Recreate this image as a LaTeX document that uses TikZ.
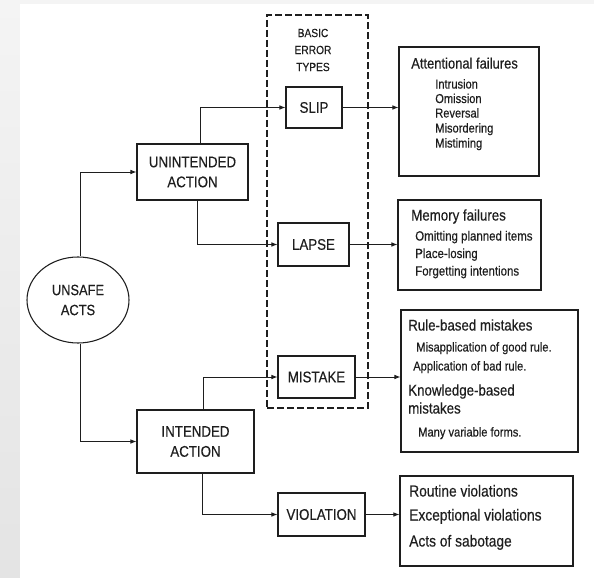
\documentclass[tikz,border=0pt]{standalone}
\usepackage{fontspec}
\setmainfont{Liberation Sans}[FakeStretch=0.86,FakeBold=0.35]
\usetikzlibrary{arrows.meta,shapes.geometric,calc}
\definecolor{bgA}{RGB}{244,244,244}
\definecolor{bgB}{RGB}{228,228,228}
\definecolor{ink}{RGB}{30,30,30}
\begin{document}
\begin{tikzpicture}[x=0.75pt,y=-0.75pt,
  box/.style 2 args={draw=ink,line width=0.8pt,rectangle,inner sep=0pt,
     minimum width=#1*0.75pt,minimum height=#2*0.75pt,
     font=\fontsize{11.6}{15}\selectfont,align=center,text=ink},
  arr/.style={draw=ink,line width=0.75pt,-{Latex[length=4.5pt,width=3.5pt]}},
  itm/.style={anchor=mid west,inner sep=0pt,text=ink},
  head/.style={itm,font=\fontsize{11.3}{12}\selectfont},
  small/.style={itm,font=\fontsize{9.7}{10}\selectfont},
  big/.style={itm,font=\fontsize{12}{12}\selectfont}
]
\useasboundingbox (0,0) rectangle (594,578);
\shade[top color=bgA,bottom color=bgB] (0,0) rectangle (594,578);
\fill[white] (20,4) rectangle (594,578);

% dashed group
\node[draw=ink,line width=0.8pt,dash pattern=on 5pt off 2.5pt,rectangle,inner sep=0pt,
      minimum width=101*0.75pt,minimum height=393*0.75pt] (grp) at (317.5,211.5) {};
\node[text=ink,align=center,font=\fontsize{8.9}{12.75}\selectfont,inner sep=0pt] (bet) at (313,50) {BASIC\\ERROR\\TYPES};

% main nodes
\node[draw=ink,line width=0.8pt,ellipse,inner sep=0pt,minimum width=102*0.75pt,minimum height=86*0.75pt,
      font=\fontsize{11.2}{15}\selectfont,align=center,text=ink] (us) at (78,300) {UNSAFE\\ACTS};
\node[box={111}{56}] (ua) at (192.5,172) {UNINTENDED\\ACTION};
\node[box={117}{63}] (ia) at (195.5,441.5) {INTENDED\\ACTION};
\node[box={56}{41}] (slip) at (314,107.5) {SLIP};
\node[box={71}{43}] (lapse) at (313.5,244.5) {LAPSE};
\node[box={77}{42}] (mis) at (316.5,377) {MISTAKE};
\node[box={87}{43}] (vio) at (321.5,514.5) {VIOLATION};

% description boxes
\node[box={140}{129}] (att) at (469,111.5) {};
\node[box={143}{90}] (mem) at (469.5,245) {};
\node[box={177}{142}] (rule) at (489.5,381) {};
\node[box={173}{90}] (viob) at (486.5,521) {};

% texts
\node[head] (t1) at (411,65) {Attentional failures};
\node[small] (t1a) at (435,85) {Intrusion};
\node[small] (t1b) at (435,99.5) {Omission};
\node[small] (t1c) at (435,114) {Reversal};
\node[small] (t1d) at (435,129) {Misordering};
\node[small] (t1e) at (435,144) {Mistiming};

\node[head,font=\fontsize{11.6}{12}\selectfont] (t2) at (411,217) {Memory failures};
\node[small,font=\fontsize{10}{10}\selectfont] (t2a) at (415,237) {Omitting planned items};
\node[small,font=\fontsize{10}{10}\selectfont] (t2b) at (415,254.5) {Place-losing};
\node[small,font=\fontsize{10}{10}\selectfont] (t2c) at (415,272) {Forgetting intentions};

\node[head,font=\fontsize{11.6}{12}\selectfont] (t3) at (408,327) {Rule-based mistakes};
\node[small] (t3a) at (416,348) {Misapplication of good rule.};
\node[small] (t3b) at (413,367) {Application of bad rule.};
\node[head,font=\fontsize{11.6}{12}\selectfont] (t3c) at (408,392) {Knowledge-based};
\node[head,font=\fontsize{11.6}{12}\selectfont] (t3d) at (408,410) {mistakes};
\node[small] (t3e) at (418,433) {Many variable forms.};

\node[big] (t4a) at (409,493) {Routine violations};
\node[big] (t4b) at (409,517) {Exceptional violations};
\node[big] (t4c) at (409,543) {Acts of sabotage};

% connectors
\draw[arr] ($(us.north)+(2,0)$) |- (ua.west);
\draw[arr] ($(us.south)+(2,0)$) |- (ia.west);
\draw[arr] ($(ua.north)+(7.5,0)$) |- (slip.west);
\draw[arr] ($(ua.south)+(4.5,0)$) |- (lapse.west);
\draw[arr] ($(ia.north)+(7.5,0)$) |- (mis.west);
\draw[arr] ($(ia.south)+(6.5,0)$) |- (vio.west);
\draw[arr] (slip.east) -- (slip.east -| att.west);
\draw[arr] (lapse.east) -- (lapse.east -| mem.west);
\draw[arr] (mis.east) -- (mis.east -| rule.west);
\draw[arr] (vio.east) -- (vio.east -| viob.west);
\end{tikzpicture}
\end{document}
